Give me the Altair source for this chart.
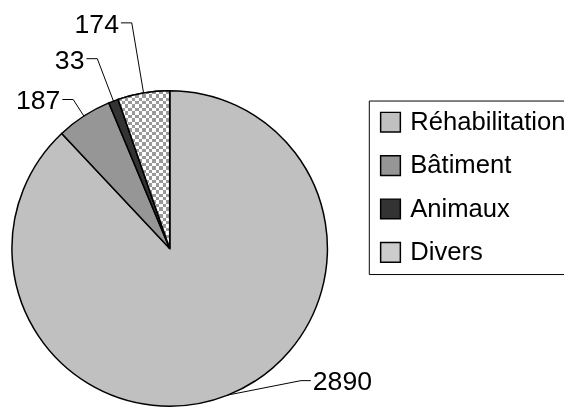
import math
import altair as alt
import pandas as pd

# ---- data ----
categories = ["Réhabilitation", "Bâtiment", "Animaux", "Divers"]
values = [2890, 187, 33, 174]
colors = ["#c0c0c0", "#969696", "#333333", "#cccccc"]

# ---- layout (label placement, like the Excel original) ----
label_radius = [189, 180, 206, 232]
label_turn = [-23.2, 0, 0, 0]

CX, CY, R = 164, 241, 160
FONT = "Liberation Sans"
FS = 27

df = pd.DataFrame({
    "category": categories,
    "value": values,
    "idx": list(range(len(categories))),
    "lr": label_radius,
    "turn": label_turn,
})


def stripes(n, horizontal):
    stops = []
    for i in range(n):
        c = "#000000" if i % 2 == 0 else "#ffffff"
        stops.append(alt.GradientStop(offset=i / n, color=c))
        stops.append(alt.GradientStop(offset=(i + 1) / n, color=c))
    if horizontal:
        return alt.LinearGradient(gradient="linear", stops=stops, x1=0, x2=0, y1=0, y2=1)
    return alt.LinearGradient(gradient="linear", stops=stops, x1=0, x2=1, y1=0, y2=0)


theta_scale = alt.Scale(domain=[0, 1], range=[0, 2 * math.pi])
theta = alt.Theta("f0:Q", scale=theta_scale)
theta2 = alt.Theta2("f1:Q")
center = dict(x=alt.value(CX), y=alt.value(CY))

base = alt.Chart(df).mark_arc(radius=R, stroke="black", strokeWidth=1.5).encode(
    theta=theta,
    theta2=theta2,
    color=alt.Color(
        "category:N",
        scale=alt.Scale(domain=categories, range=colors),
        sort=categories,
        title=None,
    ),
    **center,
)

divers = alt.Chart(df).transform_filter("datum.category === 'Divers'")

pat_a = divers.mark_arc(radius=R, fill=stripes(15, False), strokeWidth=0).encode(
    theta=theta, theta2=theta2, **center
)
pat_b = divers.mark_arc(radius=R, fill=stripes(46, True), strokeWidth=0, blend="difference").encode(
    theta=theta, theta2=theta2, **center
)
pat_c = divers.mark_arc(radius=R, fill="white", fillOpacity=0.6, stroke="black", strokeWidth=1.5).encode(
    theta=theta, theta2=theta2, **center
)

lead1 = alt.Chart(df).mark_rule(color="black", strokeWidth=1).encode(
    x=alt.X("ax:Q", scale=None), y=alt.Y("ay:Q", scale=None),
    x2="ex:Q", y2="ey:Q",
)
lead2 = alt.Chart(df).mark_rule(color="black", strokeWidth=1).encode(
    x=alt.X("ex:Q", scale=None), y=alt.Y("ey:Q", scale=None),
    x2="hx:Q", y2="ey:Q",
)

txt_left = alt.Chart(df).transform_filter("datum.side < 0").mark_text(
    align="right", baseline="middle", font=FONT, fontSize=FS, color="black", dy=2
).encode(x=alt.X("tx:Q", scale=None), y=alt.Y("ey:Q", scale=None), text="value:Q")
txt_right = alt.Chart(df).transform_filter("datum.side > 0").mark_text(
    align="left", baseline="middle", font=FONT, fontSize=FS, color="black", dy=2
).encode(x=alt.X("tx:Q", scale=None), y=alt.Y("ey:Q", scale=None), text="value:Q")

chart = (
    alt.layer(base, pat_a, pat_b, pat_c, lead1, lead2, txt_left, txt_right)
    .transform_window(cum="sum(value)", sort=[alt.SortField("idx")], frame=[None, 0])
    .transform_joinaggregate(total="sum(value)")
    .transform_calculate(
        f1="datum.cum / datum.total",
        f0="(datum.cum - datum.value) / datum.total",
        mid="2 * PI * (datum.cum - datum.value / 2) / datum.total",
    )
    .transform_calculate(ang="datum.mid + datum.turn * PI / 180")
    .transform_calculate(
        ax=f"{CX} + {R} * sin(datum.mid)",
        ay=f"{CY} - {R} * cos(datum.mid)",
        ex=f"{CX} + datum.lr * sin(datum.ang)",
        ey=f"{CY} - datum.lr * cos(datum.ang)",
        side="sin(datum.ang) < 0 ? -1 : 1",
    )
    .transform_calculate(hx="datum.ex + (datum.side < 0 ? -11 : 10)")
    .transform_calculate(tx="datum.hx + datum.side * 2")
    .properties(width=564, height=400, autosize=alt.AutoSizeParams(type="none"), padding=0)
    .configure_view(strokeWidth=0)
    .configure_legend(
        orient="none",
        legendX=366,
        legendY=91,
        strokeColor="black",
        fillColor="white",
        padding=9,
        cornerRadius=0,
        rowPadding=18,
        labelOffset=7,
        labelFont=FONT,
        labelFontSize=26,
        labelColor="black",
        labelLimit=400,
        symbolType="square",
        symbolSize=400,
        symbolStrokeColor="black",
        symbolStrokeWidth=1.5,
        symbolOpacity=1,
    )
)

chart.save("out.html", embed_options={"renderer": "svg", "actions": False})
